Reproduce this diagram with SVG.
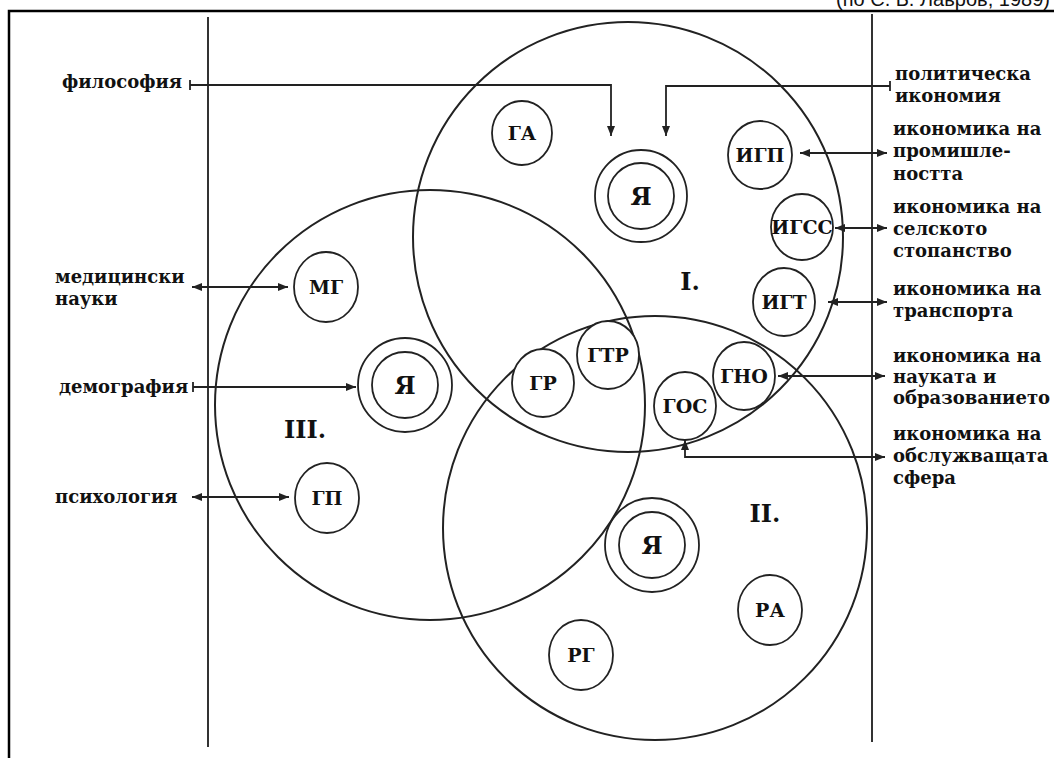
<svg xmlns="http://www.w3.org/2000/svg" width="1054" height="758" viewBox="0 0 1054 758">
<defs>
<style>
.big{fill:none;stroke:#222;stroke-width:2}
.sm{fill:#fff;stroke:#222;stroke-width:1.8}
.ring{fill:none;stroke:#222;stroke-width:1.8}
.lbl{font-family:"DejaVu Serif","Liberation Serif",serif;font-weight:bold;font-size:19px;fill:#111;text-anchor:middle}
.ya{font-family:"DejaVu Serif","Liberation Serif",serif;font-weight:bold;font-size:24px;fill:#111;text-anchor:middle}
.rom{font-family:"DejaVu Serif","Liberation Serif",serif;font-weight:bold;font-size:24px;fill:#111;text-anchor:middle}
.txt{font-family:"DejaVu Serif","Liberation Serif",serif;font-weight:bold;font-size:18px;fill:#111}
.con{fill:none;stroke:#222;stroke-width:1.8}
.vl{stroke:#333;stroke-width:2}
</style>
<marker id="ah" viewBox="0 0 10 8" refX="10" refY="4" markerWidth="10" markerHeight="8" markerUnits="userSpaceOnUse" orient="auto-start-reverse">
<path d="M0,0 L10,4 L0,8 z" fill="#222"/>
</marker>
</defs>
<rect width="1054" height="758" fill="#fff"/>
<path d="M9,758 V11 H1054" fill="none" stroke="#000" stroke-width="2.5"/>
<text x="1050" y="6" font-family="Liberation Sans, Arial, sans-serif" font-size="20" text-anchor="end" fill="#111">(по С. Б. Лавров, 1989)</text>
<g id="axes">
<line class="vl" x1="208" y1="17" x2="208" y2="747"/>
<line class="vl" x1="872" y1="14" x2="872" y2="742"/>
</g>
<g id="sets">
<circle id="setI" class="big" cx="628" cy="237" r="215"/>
<circle id="setIII" class="big" cx="430" cy="405" r="215"/>
<circle id="setII" class="big" cx="655" cy="528" r="212"/>
<text class="rom" x="690" y="290">I.</text>
<text class="rom" x="765" y="522">II.</text>
<text class="rom" x="305" y="438">III.</text>
</g>
<g id="connectors">
<line class="con" x1="190" y1="80" x2="190" y2="90"/>
<path class="con" d="M190,85 H611 V136" marker-end="url(#ah)"/>
<line class="con" x1="890" y1="81" x2="890" y2="91"/>
<path class="con" d="M890,86 H666 V136" marker-end="url(#ah)"/>
<line class="con" x1="800" y1="153" x2="887" y2="153" marker-start="url(#ah)" marker-end="url(#ah)"/>
<line class="con" x1="835" y1="228" x2="887" y2="228" marker-start="url(#ah)" marker-end="url(#ah)"/>
<line class="con" x1="828" y1="302" x2="887" y2="302" marker-start="url(#ah)" marker-end="url(#ah)"/>
<line class="con" x1="778" y1="376" x2="885" y2="376" marker-start="url(#ah)" marker-end="url(#ah)"/>
<path class="con" d="M685,440 V457 H885" marker-start="url(#ah)" marker-end="url(#ah)"/>
<line class="con" x1="192" y1="287" x2="288" y2="287" marker-start="url(#ah)" marker-end="url(#ah)"/>
<line class="con" x1="193" y1="382" x2="193" y2="392"/>
<line class="con" x1="193" y1="387" x2="356" y2="387" marker-end="url(#ah)"/>
<line class="con" x1="192" y1="497" x2="289" y2="497" marker-start="url(#ah)" marker-end="url(#ah)"/>
</g>
<g id="n-GA"><ellipse class="sm" cx="522" cy="133" rx="30" ry="32"/><text class="lbl" x="522" y="140">ГА</text></g>
<g id="n-Ya1"><circle class="ring" cx="641" cy="196" r="46"/><circle class="ring" cx="641" cy="196" r="33"/><text class="ya" x="641" y="205">Я</text></g>
<g id="n-IGP"><ellipse class="sm" cx="760" cy="155" rx="32" ry="34"/><text class="lbl" x="760" y="162">ИГП</text></g>
<g id="n-IGSS"><ellipse class="sm" cx="802" cy="227" rx="31" ry="33"/><text class="lbl" x="802" y="234">ИГСС</text></g>
<g id="n-IGT"><ellipse class="sm" cx="784" cy="302" rx="31" ry="34"/><text class="lbl" x="784" y="309">ИГТ</text></g>
<g id="n-GNO"><ellipse class="sm" cx="744" cy="376" rx="31" ry="34"/><text class="lbl" x="744" y="383">ГНО</text></g>
<g id="n-GOS"><ellipse class="sm" cx="685" cy="406" rx="31" ry="34"/><text class="lbl" x="685" y="413">ГОС</text></g>
<g id="n-GR"><ellipse class="sm" cx="543" cy="383" rx="31" ry="34"/><text class="lbl" x="543" y="390">ГР</text></g>
<g id="n-GTR"><ellipse class="sm" cx="608" cy="355" rx="31" ry="34"/><text class="lbl" x="608" y="362">ГТР</text></g>
<g id="n-MG"><ellipse class="sm" cx="326" cy="287" rx="32" ry="35"/><text class="lbl" x="326" y="294">МГ</text></g>
<g id="n-Ya3"><circle class="ring" cx="405" cy="385" r="47"/><circle class="ring" cx="405" cy="385" r="33"/><text class="ya" x="405" y="394">Я</text></g>
<g id="n-GP"><ellipse class="sm" cx="327" cy="498" rx="32" ry="35"/><text class="lbl" x="327" y="505">ГП</text></g>
<g id="n-Ya2"><circle class="ring" cx="652" cy="545" r="47"/><circle class="ring" cx="652" cy="545" r="33"/><text class="ya" x="652" y="554">Я</text></g>
<g id="n-RA"><ellipse class="sm" cx="770" cy="610" rx="32" ry="35"/><text class="lbl" x="770" y="617">РА</text></g>
<g id="n-RG"><ellipse class="sm" cx="581" cy="655" rx="32" ry="35"/><text class="lbl" x="581" y="662">РГ</text></g>
<g id="labels-left">
<text class="txt" x="62" y="88">философия</text>
<text class="txt" x="55" y="283">медицински</text>
<text class="txt" x="55" y="305">науки</text>
<text class="txt" x="59" y="393">демография</text>
<text class="txt" x="55" y="503">психология</text>
</g>
<g id="labels-right">
<text class="txt" x="895" y="80">политическа</text>
<text class="txt" x="895" y="102">икономия</text>
<text class="txt" x="893" y="135">икономика на</text>
<text class="txt" x="893" y="157">промишле-</text>
<text class="txt" x="893" y="180">ността</text>
<text class="txt" x="893" y="213">икономика на</text>
<text class="txt" x="893" y="235">селското</text>
<text class="txt" x="893" y="257">стопанство</text>
<text class="txt" x="893" y="295">икономика на</text>
<text class="txt" x="893" y="317">транспорта</text>
<text class="txt" x="893" y="362">икономика на</text>
<text class="txt" x="893" y="383">науката и</text>
<text class="txt" x="893" y="404">образованието</text>
<text class="txt" x="893" y="440">икономика на</text>
<text class="txt" x="893" y="462">обслужващата</text>
<text class="txt" x="893" y="484">сфера</text>
</g>
</svg>
